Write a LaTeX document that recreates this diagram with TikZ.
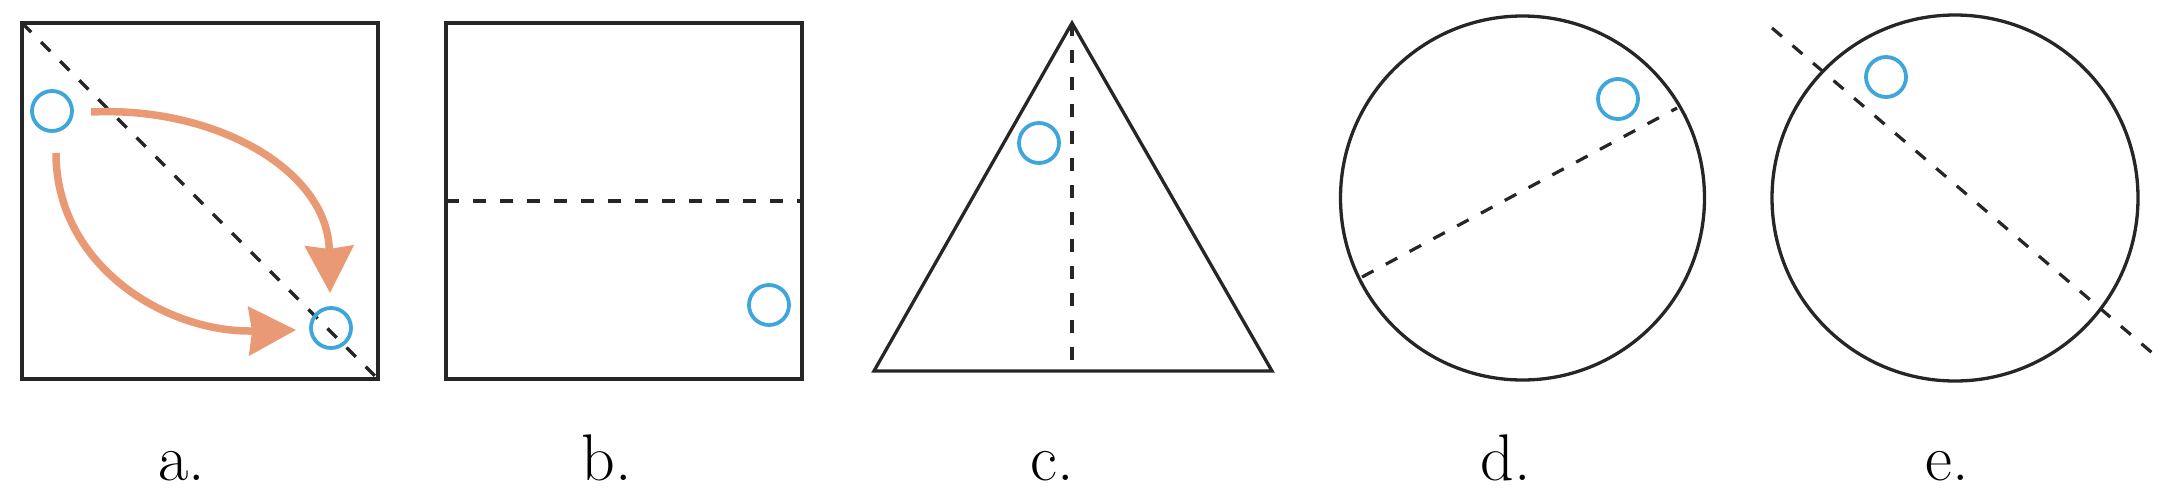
\documentclass[tikz,border=0pt]{standalone}
\usetikzlibrary{arrows.meta}
\definecolor{dotblue}{HTML}{3FA6DC}
\definecolor{salmon}{HTML}{E99A74}
\begin{document}
\begin{tikzpicture}[x=1pt,y=-1pt,
  outline/.style={draw=black!85,line width=3.3pt,line join=miter},
  fold/.style={draw=black!85,line width=3.2pt,dash pattern=on 13pt off 14pt},
  dot/.style={circle,draw=dotblue,line width=3.8pt,minimum size=40pt,inner sep=0pt},
  move/.style={draw=salmon,line width=7.5pt,-{Stealth[length=47pt,width=48pt,inset=3pt]}},
  lab/.style={font=\fontsize{66}{66}\selectfont,anchor=base}]
\useasboundingbox (0,0) rectangle (2171,496);
% panel a
\coordinate (aTL) at (22,23); \coordinate (aBR) at (378,379);
\draw[outline] (aTL) rectangle (aBR);
\draw[fold] (aTL) -- (aBR);
\node[dot] (a1) at (52,111) {};
\node[dot] (a2) at (331,328) {};
\coordinate (u1) at (91,112); \coordinate (u2) at (330,293);
\coordinate (l1) at (56,153); \coordinate (l2) at (296,330);
\draw[move] (u1) .. controls (215,106) and (328,170) .. (u2);
\draw[move] (l1) .. controls (56,265) and (165,333) .. (l2);
\node[lab] (la) at (182,480) {a.};
% panel b
\coordinate (bTL) at (446,23); \coordinate (bBR) at (802,379);
\draw[outline] (bTL) rectangle (bBR);
\coordinate (bL) at (446,201); \coordinate (bR) at (802,201);
\draw[fold] (bL) -- (bR);
\node[dot] (b1) at (769,305) {};
\node[lab] (lb) at (607,480) {b.};
% panel c
\coordinate (cA) at (1072,23); \coordinate (cL) at (874,371); \coordinate (cR) at (1272,371);
\coordinate (cM) at (1072,371);
\draw[outline] (cA) -- (cL) -- (cR) -- cycle;
\draw[fold] (cA) -- (cM);
\node[dot] (c1) at (1039,143) {};
\node[lab] (lc) at (1052,480) {c.};
% panel d
\node[circle,draw=black!85,line width=3.3pt,minimum size=364pt,inner sep=0pt] (dC) at (1522.5,198) {};
\coordinate (d1) at (1362,277); \coordinate (d2) at (1677,108);
\draw[fold] (d1) -- (d2);
\node[dot] (dd) at (1618,99) {};
\node[lab] (ld) at (1506,480) {d.};
% panel e
\node[circle,draw=black!85,line width=3.3pt,minimum size=366pt,inner sep=0pt] (eC) at (1955,198) {};
\coordinate (e1) at (1772,28); \coordinate (e2) at (2157,357);
\draw[fold] (e1) -- (e2);
\node[dot] (ed) at (1886,77) {};
\node[lab] (le) at (1947,480) {e.};
\end{tikzpicture}
\end{document}
